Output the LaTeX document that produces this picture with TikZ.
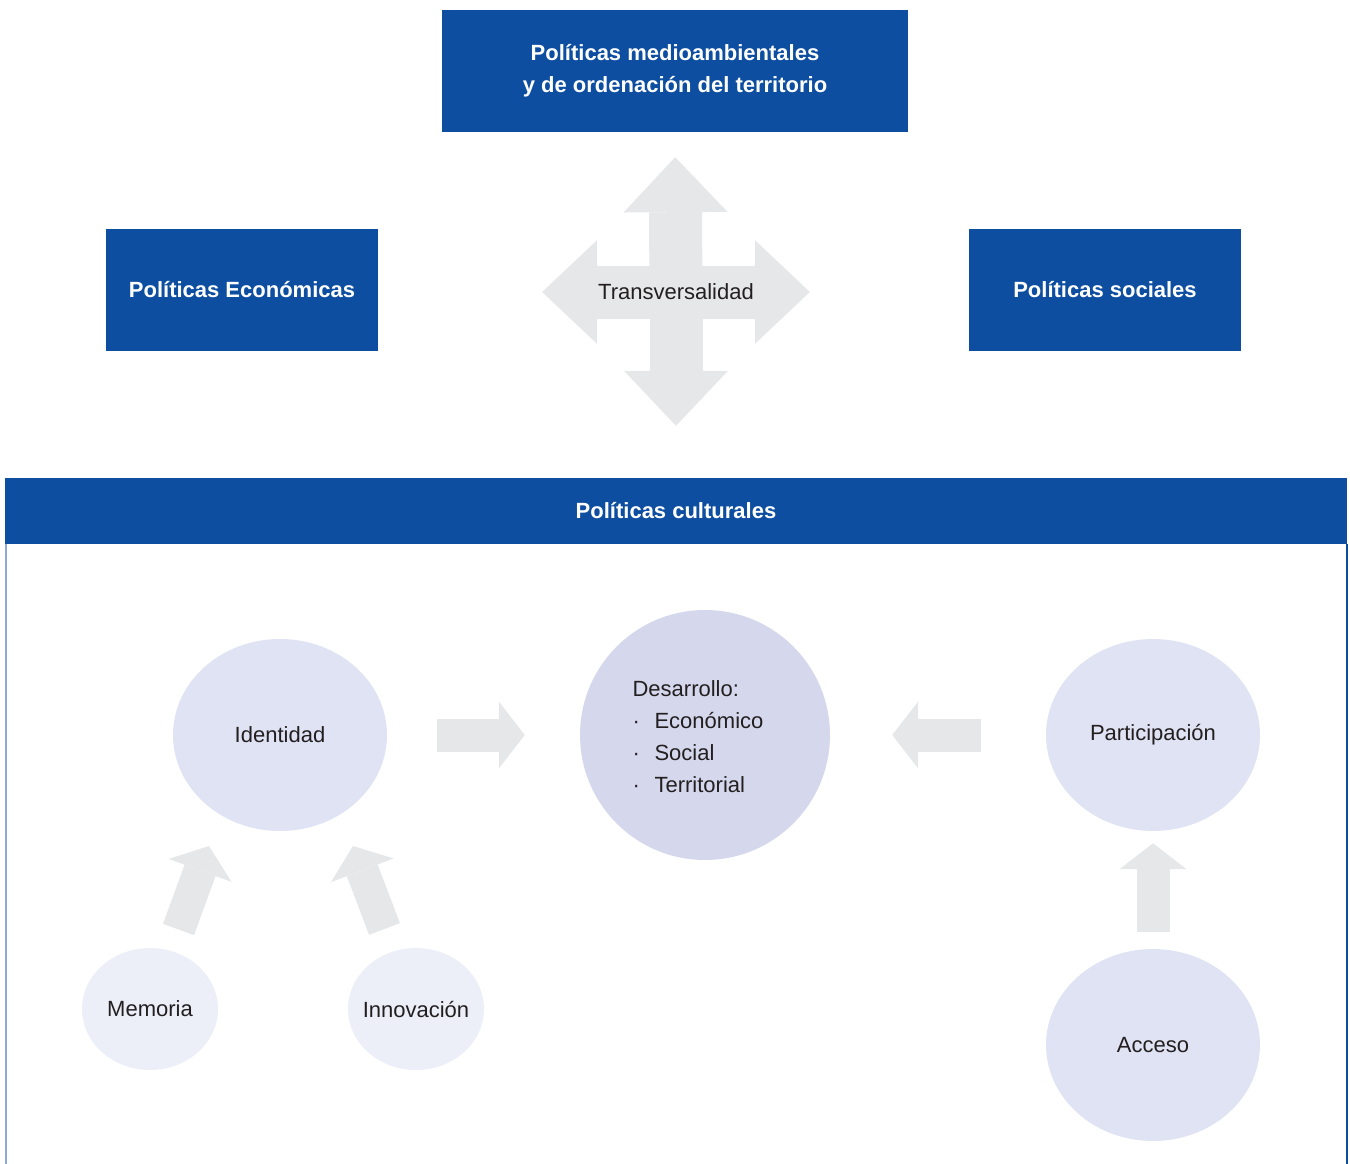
\documentclass[tikz,border=0pt]{standalone}
\usepackage{fontspec}
\setmainfont{Liberation Sans}
\usetikzlibrary{shapes.geometric,arrows.meta,backgrounds}

\definecolor{azul}{RGB}{13,78,160}
\definecolor{azulclaro}{RGB}{143,169,214}
\definecolor{gris}{RGB}{230,231,233}
\definecolor{texto}{RGB}{35,31,32}
\definecolor{lila}{RGB}{213,216,236}
\definecolor{lilaclaro}{RGB}{224,227,243}
\definecolor{lilapalido}{RGB}{236,239,248}

\newcommand\punto{\makebox[22pt][l]{·}}

\begin{document}
\begin{tikzpicture}[x=1pt,y=-1pt]
    \tikzstyle{every node}=[font=\fontsize{22}{32}\selectfont, text=texto, inner sep=0pt]
    \tikzstyle{caja}=[rectangle, fill=azul, text=white, font=\fontsize{22}{32}\selectfont\bfseries, align=center]
    \tikzstyle{burbuja}=[ellipse, fill=lilaclaro, minimum width=214, minimum height=192]
    \tikzstyle{burbujita}=[ellipse, fill=lilapalido, minimum width=136, minimum height=122, inner xsep=-10pt]
    \tikzstyle{flecha}=[draw=gris, line width=33pt, -{Triangle[length=26pt,width=67pt,line width=0pt]}]
    \tikzstyle{cruz}=[draw=gris, line width=53pt, -{Triangle[length=55pt,width=104pt,line width=0pt]}]

    \useasboundingbox (0,0) rectangle (1350,1164);

    \node[caja, minimum width=466, minimum height=122] (medio) at (675,71) {Políticas medioambientales\\y de ordenación del territorio};
    \node[caja, minimum width=272, minimum height=122] (eco) at (242,290) {Políticas Económicas};
    \node[caja, minimum width=272, minimum height=122] (soc) at (1105,290) {Políticas sociales};
    \node (trans) at (676,292) {Transversalidad};
    \node[caja, minimum width=1342, minimum height=66] (cult) at (676,511) {Políticas culturales};

    \draw[azulclaro, line width=2pt] ([xshift=1pt]cult.south west) -- ([xshift=1pt]cult.south west |- 0,1164);
    \draw[azul, line width=1.5pt] (cult.south east) -- (cult.south east |- 0,1164);

    \node[circle, fill=lila, minimum size=250,
        label={[align=left, xshift=-7pt, yshift=-2pt]center:{Desarrollo:\\\punto Económico\\\punto Social\\\punto Territorial}}] (desa) at (705,735) {};
    \node[burbuja] (ident) at (280,735) {Identidad};
    \node[burbuja] (partic) at (1153,735) {Participación};
    \node[burbuja] (acceso) at (1153,1045) {Acceso};
    \node[burbujita] (memo) at (150,1009) {Memoria};
    \node[burbujita] (innov) at (416,1009) {Innovación};

    \begin{scope}[on background layer]
        \draw[cruz, shorten >=25pt] (trans.center) -- (medio.south);
        \draw[cruz, shorten >=52pt] (trans.center) -- (trans |- cult.north);
        \draw[cruz, shorten >=164pt] (trans.center) -- (trans -| eco.east);
        \draw[cruz, shorten >=159pt] (trans.center) -- (trans -| soc.west);
    \end{scope}

    \draw[flecha, shorten <=50pt, shorten >=55pt] (ident) -- (desa);
    \draw[flecha, shorten <=65pt, shorten >=62pt] (partic) -- (desa);
    \draw[flecha, shorten <=17pt, shorten >=12pt] (acceso) -- (partic);
    \draw[flecha] ([shift={(28.5,-79.5)}]memo.center) -- ([shift={(-71,111)}]ident.center);
    \draw[flecha] ([shift={(-31.5,-80)}]innov.center) -- ([shift={(73,111)}]ident.center);
\end{tikzpicture}
\end{document}
